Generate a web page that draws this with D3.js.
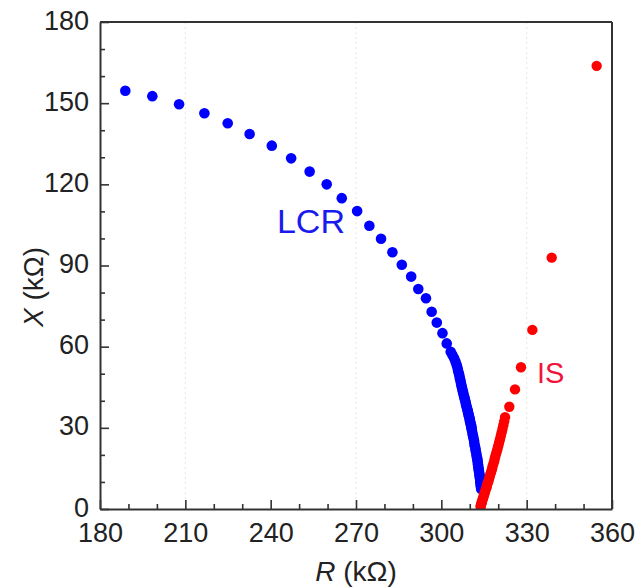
<!DOCTYPE html>
<html>
<head>
<meta charset="utf-8">
<script src="https://cdn.jsdelivr.net/npm/d3@7"></script>
<style>
  body { margin: 0; background: #fff; }
  text { font-family: "Liberation Sans", Arial, sans-serif; }
</style>
</head>
<body>
<svg id="chart" width="635" height="588"></svg>
<script>
// LCR series: R (kOhm), X (kOhm)
var lcrR = [188.9, 198.4, 207.8, 216.7, 224.9, 232.6, 240.4, 247.2, 253.7, 259.7,
            265.0, 270.4, 274.7, 278.8, 282.8, 286.1, 289.4, 291.9, 294.6, 296.6,
            298.4, 300.4, 301.9, 303.3, 303.9, 304.5, 305.0, 305.4, 305.7, 305.9,
            306.2, 306.4, 306.6, 306.8, 307.0, 307.2, 307.4, 307.6, 307.8, 308.0,
            308.2, 308.4, 308.6, 308.7, 308.9, 309.1, 309.3, 309.4, 309.6, 309.7,
            309.9, 310.0, 310.1, 310.2, 310.4, 310.5, 310.6, 310.7, 310.9, 311.1,
            311.3, 311.5, 311.6, 311.8, 312.0, 312.1, 312.3, 312.4, 312.6, 312.7,
            312.8, 312.9, 313.0, 313.1, 313.2, 313.3, 313.4, 313.5, 313.6, 313.7,
            313.7, 313.8, 313.9, 313.9, 314.0];
var lcrX = [154.6, 152.6, 149.6, 146.3, 142.6, 138.6, 134.3, 129.6, 124.7, 120.0,
            114.9, 110.1, 104.7, 99.9, 94.9, 90.3, 85.9, 81.3, 77.9, 72.9,
            68.9, 65.0, 61.2, 58.1, 56.9, 55.7, 54.4, 53.2, 52.1, 51.0,
            50.0, 49.0, 48.0, 47.0, 46.0, 45.1, 44.2, 43.3, 42.4, 41.6,
            40.8, 40.0, 39.2, 38.5, 37.7, 37.0, 36.3, 35.6, 34.9, 34.3,
            33.6, 33.0, 32.4, 31.8, 31.2, 30.6, 30.0, 29.4, 28.3, 27.2,
            26.2, 25.2, 24.2, 23.2, 22.3, 21.4, 20.5, 19.6, 18.8, 18.0,
            17.2, 16.4, 15.6, 14.8, 14.1, 13.4, 12.7, 12.0, 11.3, 10.6,
            10.0, 9.4, 8.8, 8.2, 7.4];

// IS series
var isR = [354.6, 338.8, 332.0, 328.0, 325.9, 323.9, 322.4, 322.1, 321.8, 321.5,
           321.2, 320.9, 320.6, 320.3, 320.0, 319.7, 319.4, 319.1, 318.8, 318.6,
           318.3, 318.0, 317.8, 317.5, 317.2, 317.0, 316.7, 316.5, 316.2, 316.0,
           315.8, 315.5, 315.3, 315.1, 314.9, 314.7, 314.5, 314.3, 314.2, 314.0,
           313.9, 313.8];
var isX = [163.8, 92.9, 66.2, 52.4, 44.2, 37.8, 33.9, 32.4, 31.0, 29.6,
           28.3, 27.0, 25.7, 24.5, 23.3, 22.1, 21.0, 19.9, 18.8, 17.7,
           16.7, 15.7, 14.7, 13.7, 12.8, 11.9, 11.0, 10.1, 9.3, 8.5,
           7.7, 6.9, 6.2, 5.5, 4.8, 4.1, 3.5, 2.9, 2.3, 1.8,
           1.3, 0.9];

var xTicks = [180, 210, 240, 270, 300, 330, 360];
var yTicks = [0, 30, 60, 90, 120, 150, 180];
var xMinor = [190, 200, 220, 230, 250, 260, 280, 290, 310, 320, 340, 350];
var yMinor = [10, 20, 40, 50, 70, 80, 100, 110, 130, 140, 160, 170];
var faintLines = [210, 270, 330];

var labels = [
  {text: "LCR", r: 242.2, x: 102.1, color: "#1a1aee", size: 34},
  {text: "IS", r: 333.6, x: 46.6, color: "#f0143c", size: 29}
];

var svg = d3.select("#chart"),
    width = +svg.attr("width"),
    height = +svg.attr("height");
var margin = {top: 22, right: 23, bottom: 79, left: 100};

var x = d3.scaleLinear().domain([180, 360]).range([margin.left, width - margin.right]);
var y = d3.scaleLinear().domain([0, 180]).range([height - margin.bottom, margin.top]);

// faint vertical lines seen in the scan
svg.append("g").selectAll("line")
    .data(faintLines)
    .enter().append("line")
    .attr("x1", d => x(d)).attr("x2", d => x(d))
    .attr("y1", y(180)).attr("y2", y(0))
    .attr("stroke", "#e6e6e6")
    .attr("stroke-dasharray", "2,3");

svg.append("defs").append("clipPath").attr("id", "plot")
  .append("rect")
    .attr("x", x(180)).attr("y", y(180))
    .attr("width", x(360) - x(180) + 6).attr("height", y(0) - y(180));

var dots = svg.append("g").attr("clip-path", "url(#plot)");

dots.selectAll(".lcr")
    .data(lcrR.map((r, i) => [r, lcrX[i]]))
    .enter().append("circle")
    .attr("class", "lcr")
    .attr("cx", d => x(d[0]))
    .attr("cy", d => y(d[1]))
    .attr("r", 5.3)
    .attr("fill", "#0000ff");

dots.selectAll(".is")
    .data(isR.map((r, i) => [r, isX[i]]))
    .enter().append("circle")
    .attr("class", "is")
    .attr("cx", d => x(d[0]))
    .attr("cy", d => y(d[1]))
    .attr("r", 5.2)
    .attr("fill", "#ff0000");

// axes
var axisColor = "#333";
var xAxis = svg.append("g")
    .attr("transform", "translate(0," + y(0) + ")")
    .call(d3.axisBottom(x).tickValues(xTicks).tickSizeInner(-9).tickSizeOuter(0).tickPadding(14));
xAxis.append("g").call(d3.axisBottom(x).tickValues(xMinor).tickSize(-5).tickFormat(""))
    .select(".domain").remove();

var yAxis = svg.append("g")
    .attr("transform", "translate(" + x(180) + ",0)")
    .call(d3.axisLeft(y).tickValues(yTicks).tickSizeInner(-9).tickSizeOuter(0).tickPadding(11));
yAxis.append("g").call(d3.axisLeft(y).tickValues(yMinor).tickSize(-5).tickFormat(""))
    .select(".domain").remove();
yAxis.selectAll(".tick text").attr("dy", "0.26em");

svg.selectAll(".domain").attr("stroke", axisColor).attr("stroke-width", 2);
svg.selectAll(".tick line").attr("stroke", axisColor).attr("stroke-width", 1.6);
svg.selectAll(".tick text")
    .attr("fill", "#222")
    .style("font-size", "27px")
    .style("font-family", "'Liberation Sans', Arial, sans-serif");

// frame top and right
svg.append("line")
    .attr("x1", x(180)).attr("x2", x(360)).attr("y1", y(180)).attr("y2", y(180))
    .attr("stroke", axisColor).attr("stroke-width", 2);
svg.append("line")
    .attr("x1", x(360)).attr("x2", x(360)).attr("y1", y(180)).attr("y2", y(0))
    .attr("stroke", axisColor).attr("stroke-width", 2);

// series labels
svg.selectAll(".lbl")
    .data(labels)
    .enter().append("text")
    .attr("class", "lbl")
    .attr("x", d => x(d.r))
    .attr("y", d => y(d.x))
    .attr("fill", d => d.color)
    .style("font-size", d => d.size + "px")
    .text(d => d.text);

// axis titles
var xt = svg.append("text")
    .attr("x", (x(180) + x(360)) / 2)
    .attr("y", 581)
    .attr("text-anchor", "middle")
    .attr("fill", "#222")
    .style("font-size", "28px");
xt.append("tspan").style("font-style", "italic").text("R");
xt.append("tspan").text(" (kΩ)");

var yt = svg.append("text")
    .attr("transform", "translate(43,287) rotate(-90)")
    .attr("text-anchor", "middle")
    .attr("fill", "#222")
    .style("font-size", "28px");
yt.append("tspan").style("font-style", "italic").text("X");
yt.append("tspan").text(" (kΩ)");
</script>
</body>
</html>
